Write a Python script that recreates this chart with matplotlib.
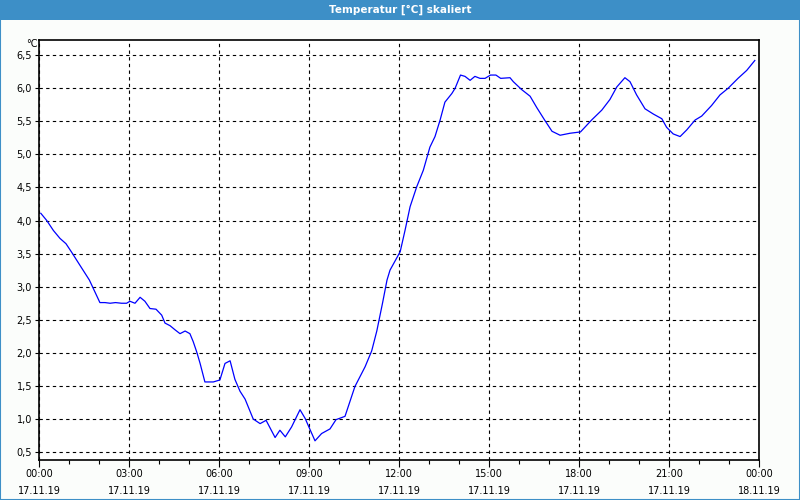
import matplotlib
matplotlib.use("Agg")
import matplotlib.pyplot as plt
from matplotlib.patches import Rectangle
from matplotlib.ticker import FixedLocator, MultipleLocator

# stunden ab 17.11.19 00:00 und temperatur in °C
stunden = [0.06, 0.26, 0.48, 0.7, 0.9, 1.09, 1.37, 1.68, 2.03, 2.2, 2.37, 2.55, 2.75, 2.92,
           3.03, 3.2, 3.37, 3.53, 3.7, 3.9, 4.09, 4.2, 4.37, 4.53, 4.7, 4.87, 5.03, 5.14,
           5.26, 5.37, 5.53, 5.81, 6.03, 6.2, 6.37, 6.53, 6.7, 6.87, 7.14, 7.37, 7.57,
           7.87, 8.03, 8.21, 8.42, 8.7, 8.87, 9.2, 9.42, 9.7, 9.9, 10.2, 10.53, 10.87,
           11.09, 11.26, 11.45, 11.6, 11.7, 12.04, 12.2, 12.37, 12.59, 12.81, 13.03,
           13.2, 13.37, 13.53, 13.76, 13.87, 14.05, 14.2, 14.37, 14.53, 14.7, 14.87,
           15.05, 15.23, 15.39, 15.7, 15.81, 16.09, 16.37, 16.59, 16.84, 17.1, 17.37,
           17.7, 18.05, 18.42, 18.76, 19.03, 19.26, 19.53, 19.7, 19.92, 20.2, 20.48,
           20.76, 20.92, 21.14, 21.37, 21.59, 21.87, 22.09, 22.42, 22.7, 22.97, 23.3,
           23.59, 23.86]
temperatur = [4.11, 4.0, 3.85, 3.73, 3.65, 3.52, 3.32, 3.1, 2.76, 2.76, 2.75, 2.76, 2.75, 2.75,
              2.78, 2.75, 2.84, 2.78, 2.67, 2.66, 2.57, 2.45, 2.41, 2.35, 2.29, 2.33, 2.29, 2.17,
              2.01, 1.84, 1.56, 1.56, 1.59, 1.84, 1.88, 1.6, 1.42, 1.3, 1.0, 0.93, 0.98,
              0.72, 0.83, 0.73, 0.88, 1.14, 1.01, 0.67, 0.78, 0.85, 0.99, 1.04, 1.49, 1.79,
              2.03, 2.33, 2.75, 3.1, 3.25, 3.53, 3.85, 4.21, 4.51, 4.76, 5.11,
              5.27, 5.52, 5.79, 5.92, 6.0, 6.2, 6.18, 6.12, 6.18, 6.15, 6.15,
              6.2, 6.2, 6.15, 6.16, 6.1, 5.98, 5.88, 5.71, 5.53, 5.35, 5.29,
              5.32, 5.34, 5.52, 5.67, 5.83, 6.02, 6.16, 6.1, 5.9, 5.69, 5.61,
              5.54, 5.41, 5.31, 5.27, 5.37, 5.52, 5.58, 5.74, 5.9, 6.0, 6.15,
              6.27, 6.42]

y_ticks = [0.5, 1.0, 1.5, 2.0, 2.5, 3.0, 3.5, 4.0, 4.5, 5.0, 5.5, 6.0, 6.5]
x_ticks = [0, 3, 6, 9, 12, 15, 18, 21, 24]
x_labels = ["00:00\n17.11.19", "03:00\n17.11.19", "06:00\n17.11.19", "09:00\n17.11.19",
            "12:00\n17.11.19", "15:00\n17.11.19", "18:00\n17.11.19", "21:00\n17.11.19",
            "00:00\n18.11.19"]

blau = "#3d8fc7"

fig = plt.figure(figsize=(8, 5), dpi=100, facecolor="#fbfdfb")

# titelleiste
fig.patches.append(Rectangle((0, 0.96), 1, 0.04, transform=fig.transFigure,
                             facecolor=blau, edgecolor="none", zorder=0))
fig.patches.append(Rectangle((0.0006, 0.001), 0.9988, 0.998, transform=fig.transFigure,
                             facecolor="none", edgecolor=blau, linewidth=1.5, zorder=1))
fig.text(0.5, 0.98, "Temperatur [°C] skaliert", color="white", fontsize=7.5,
         fontweight="bold", ha="center", va="center")

ax = fig.add_axes([39 / 800, 0.08, 0.9, 0.84])
ax.set_facecolor("white")
ax.plot(stunden, temperatur, color="#0000ff", linewidth=0.9)

ax.set_xlim(0, 24)
ax.set_ylim(0.38, 6.73)

ax.xaxis.set_major_locator(FixedLocator(x_ticks))
ax.xaxis.set_minor_locator(MultipleLocator(1))
ax.set_xticklabels(x_labels, fontsize=7, linespacing=1.85)
ax.set_yticks(y_ticks)
ax.set_yticklabels([("%.1f" % v).replace(".", ",") for v in y_ticks], fontsize=7)

ax.tick_params(axis="x", which="major", length=5, width=0.8, pad=1.5)
ax.tick_params(axis="x", which="minor", length=3, width=0.8)
ax.tick_params(axis="y", which="major", length=3, width=0.8, pad=2)

ax.grid(True, which="major", color="black", linestyle=(0, (3, 3)), linewidth=0.8)
for s in ax.spines.values():
    s.set_linewidth(1.2)
    s.set_color("black")

fig.text(32 / 800, 1 - 44 / 500, "°C", fontsize=7, ha="center", va="center")

fig.savefig("out.png", dpi=100, facecolor=fig.get_facecolor())
